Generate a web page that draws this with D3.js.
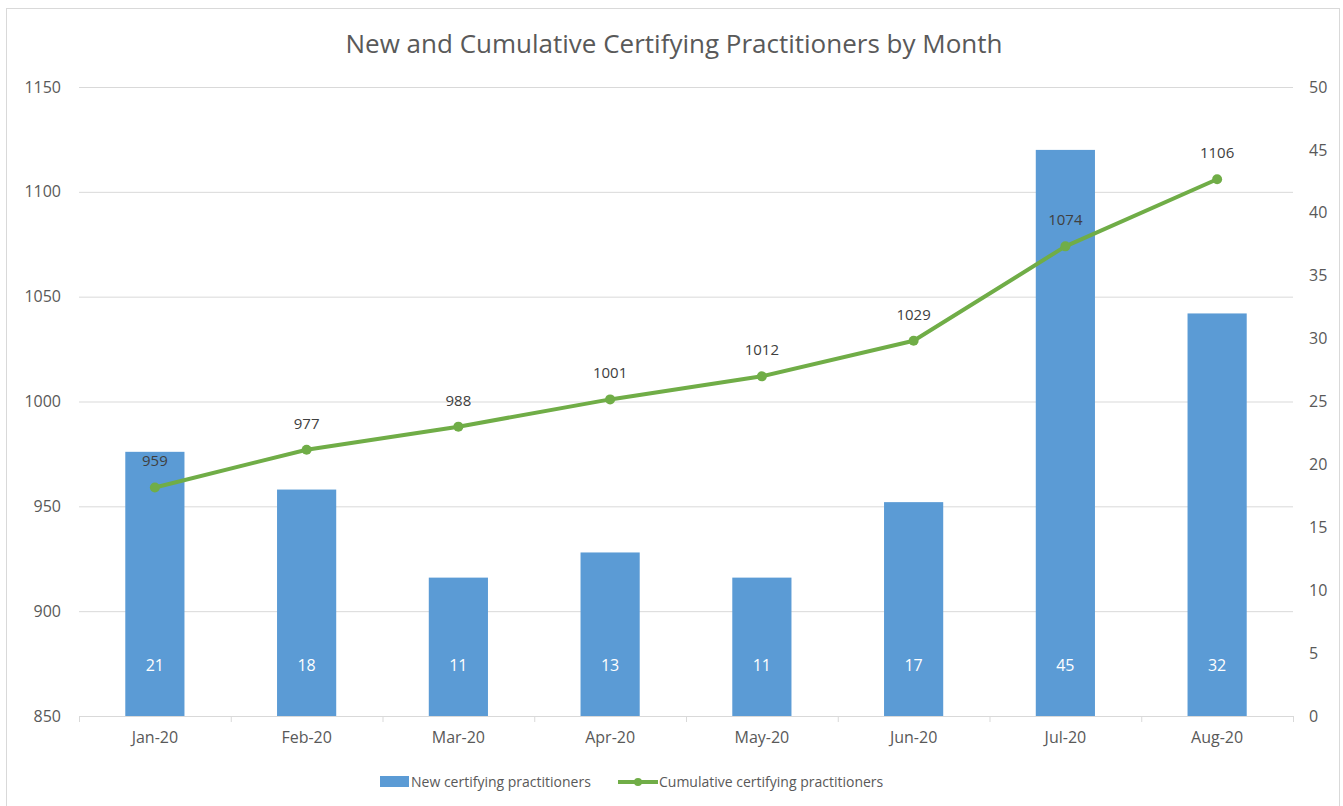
<!DOCTYPE html>
<html lang="en">
<head>
  <meta charset="utf-8" />
  <title>New and Cumulative Certifying Practitioners by Month</title>
  <script src="https://d3js.org/d3.v7.min.js"></script>
  <style>
    body { margin: 0; background: #fff; }
    svg text { font-family: "Open Sans", Lato, sans-serif; }
  </style>
</head>
<body>
<div id="chart"></div>
<script>
  // data
  const months = ["Jan-20", "Feb-20", "Mar-20", "Apr-20", "May-20", "Jun-20", "Jul-20", "Aug-20"];
  const newPractitioners = [21, 18, 11, 13, 11, 17, 45, 32];
  const cumulative = [959, 977, 988, 1001, 1012, 1029, 1074, 1106];
  const leftTicks = [850, 900, 950, 1000, 1050, 1100, 1150];
  const rightTicks = [0, 5, 10, 15, 20, 25, 30, 35, 40, 45, 50];

  const W = 1343, H = 806;
  const margin = { top: 87, right: 50, bottom: 90, left: 79 };

  const svg = d3.select("#chart").append("svg")
    .attr("width", W)
    .attr("height", H);

  // outer border of chart
  svg.append("rect")
    .attr("x", 6.5).attr("y", 8.5)
    .attr("width", 1333).attr("height", 810)
    .attr("fill", "#fff").attr("stroke", "#d9d9d9");

  const x = d3.scaleBand()
    .domain(months)
    .range([margin.left, W - margin.right])
    .paddingInner(0.61).paddingOuter(0.305);

  const yLeft = d3.scaleLinear().domain([850, 1150]).range([H - margin.bottom, margin.top]);
  const yRight = d3.scaleLinear().domain([0, 50]).range([H - margin.bottom, margin.top]);

  // grid lines
  svg.append("g")
    .selectAll("line")
    .data(leftTicks)
    .join("line")
    .attr("x1", margin.left).attr("x2", W - margin.right)
    .attr("y1", d => yLeft(d) + 0.5).attr("y2", d => yLeft(d) + 0.5)
    .attr("stroke", "#d9d9d9");

  // left axis
  const axL = svg.append("g")
    .attr("transform", `translate(${margin.left - 18},0)`)
    .call(d3.axisLeft(yLeft).tickValues(leftTicks).tickFormat(d3.format("d")).tickSize(0).tickPadding(0));
  axL.select(".domain").remove();
  axL.selectAll("text").attr("fill", "#595959").style("font-size", "16px");

  // right axis
  const axR = svg.append("g")
    .attr("transform", `translate(${W - margin.right + 16},0)`)
    .call(d3.axisRight(yRight).tickValues(rightTicks).tickSize(0).tickPadding(0));
  axR.select(".domain").remove();
  axR.selectAll("text").attr("fill", "#595959").style("font-size", "16px");

  // bottom axis with category tick marks between bands
  const base = H - margin.bottom;
  svg.append("g")
    .selectAll("line.sep")
    .data(d3.range(months.length + 1))
    .join("line")
    .attr("class", "sep")
    .attr("x1", i => margin.left + i * x.step() + 0.5)
    .attr("x2", i => margin.left + i * x.step() + 0.5)
    .attr("y1", base).attr("y2", base + 6)
    .attr("stroke", "#d9d9d9");

  const axB = svg.append("g")
    .attr("transform", `translate(0,${base})`)
    .call(d3.axisBottom(x).tickSize(0).tickPadding(16));
  axB.select(".domain").remove();
  axB.selectAll("text").attr("fill", "#595959").style("font-size", "16px");

  // bars
  svg.append("g")
    .selectAll("rect")
    .data(newPractitioners)
    .join("rect")
    .attr("x", (d, i) => x(months[i]))
    .attr("y", d => yRight(d))
    .attr("width", x.bandwidth())
    .attr("height", d => yRight(0) - yRight(d))
    .attr("fill", "#5b9bd5");

  // bar labels (inside base)
  svg.append("g")
    .selectAll("text")
    .data(newPractitioners)
    .join("text")
    .attr("x", (d, i) => x(months[i]) + x.bandwidth() / 2)
    .attr("y", base - 45)
    .attr("text-anchor", "middle")
    .attr("fill", "#fff")
    .style("font-size", "16px")
    .text(d => d);

  // cumulative line
  const cx = (d, i) => x(months[i]) + x.bandwidth() / 2;
  const line = d3.line().x(cx).y(d => yLeft(d));
  svg.append("path")
    .datum(cumulative)
    .attr("d", line)
    .attr("fill", "none")
    .attr("stroke", "#70ad47")
    .attr("stroke-width", 4)
    .attr("stroke-linejoin", "round");

  svg.append("g")
    .selectAll("circle")
    .data(cumulative)
    .join("circle")
    .attr("cx", cx)
    .attr("cy", d => yLeft(d))
    .attr("r", 5)
    .attr("fill", "#70ad47");

  svg.append("g")
    .selectAll("text")
    .data(cumulative)
    .join("text")
    .attr("x", cx)
    .attr("y", d => yLeft(d) - 21)
    .attr("text-anchor", "middle")
    .attr("fill", "#404040")
    .style("font-size", "15px")
    .text(d => d);

  // title
  svg.append("text")
    .attr("x", 674).attr("y", 53)
    .attr("text-anchor", "middle")
    .attr("fill", "#595959")
    .style("font-size", "26px")
    .text("New and Cumulative Certifying Practitioners by Month");

  // legend
  const lg = svg.append("g").attr("transform", "translate(0,782)");
  lg.append("rect").attr("x", 380).attr("y", -6).attr("width", 29).attr("height", 11).attr("fill", "#5b9bd5");
  lg.append("text").attr("x", 411).attr("y", 5).attr("fill", "#595959").style("font-size", "14px")
    .text("New certifying practitioners");
  lg.append("line").attr("x1", 618).attr("x2", 658).attr("y1", 0).attr("y2", 0)
    .attr("stroke", "#70ad47").attr("stroke-width", 4);
  lg.append("circle").attr("cx", 638).attr("cy", 0).attr("r", 4).attr("fill", "#70ad47");
  lg.append("text").attr("x", 659).attr("y", 5).attr("fill", "#595959").style("font-size", "14px")
    .text("Cumulative certifying practitioners");
</script>
</body>
</html>
